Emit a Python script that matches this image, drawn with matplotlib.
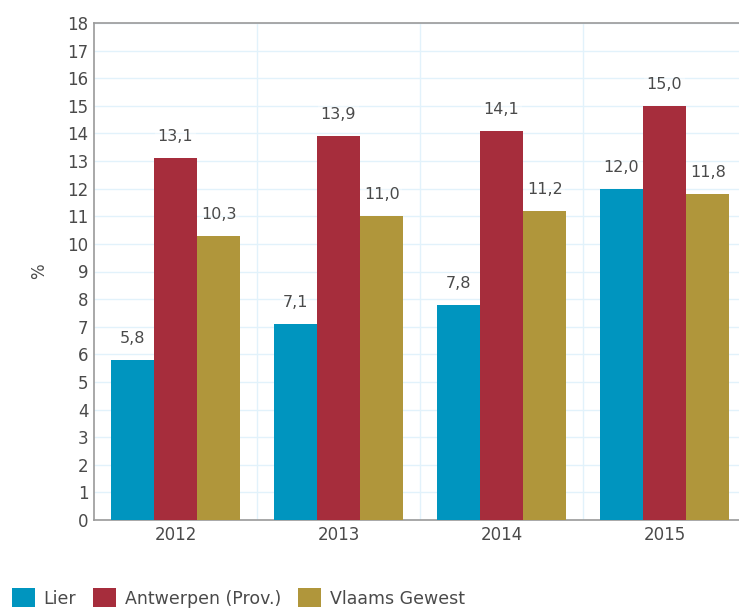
import matplotlib.pyplot as plt
import numpy as np

years = ['2012', '2013', '2014', '2015']
lier = [5.8, 7.1, 7.8, 12.0]
antwerpen = [13.1, 13.9, 14.1, 15.0]
vlaams = [10.3, 11.0, 11.2, 11.8]
series_names = ['Lier', 'Antwerpen (Prov.)', 'Vlaams Gewest']
colors = ['#0095bf', '#a62d3c', '#b0963b']

fig = plt.figure(figsize=(7.39, 6.10), dpi=100)
ax = fig.add_axes([94/739, 90/610, 652/739, 497/610])

x = np.arange(len(years))
w = 0.265
txt = '#4a4a4a'
for i, (vals, name, c) in enumerate(zip([lier, antwerpen, vlaams], series_names, colors)):
    pos = x + (i - 1) * w
    ax.bar(pos, vals, width=w, color=c, label=name, zorder=3)
    for xp, v in zip(pos, vals):
        # value label with faint white box, like the original
        ax.annotate(f'{v:.1f}'.replace('.', ','), (xp, v), xytext=(0, 10),
                    textcoords='offset points', ha='center', va='bottom',
                    fontsize=11.5, color=txt, zorder=5,
                    bbox=dict(boxstyle='square,pad=0.15', fc='white', ec='none', alpha=0.35))

ax.set_xlim(-0.5, 3.5)
ax.set_ylim(0, 18)
ax.set_yticks(range(0, 19))
ax.set_xticks(x)
ax.set_xticklabels(years)
ax.set_xticks([0.5, 1.5, 2.5], minor=True)
ax.tick_params(axis='both', which='both', length=0, labelsize=12, colors=txt, pad=4)
ax.grid(axis='y', color='#e2f2fb', lw=1, zorder=0)
ax.grid(axis='x', which='minor', color='#e2f2fb', lw=1, zorder=0)
for s in ax.spines.values():
    s.set_color('#9a9a9a')
    s.set_linewidth(1.2)
ax.set_ylabel('%', fontsize=12, color=txt, labelpad=14)

fig.legend(loc='lower left', bbox_to_anchor=(0.0, -0.016), ncol=3, frameon=False,
           fontsize=12.5, handlelength=1.3, handleheight=1.3, handletextpad=0.5,
           columnspacing=1.0, labelcolor=txt, borderaxespad=0.3)

fig.savefig('out.png', dpi=100)
